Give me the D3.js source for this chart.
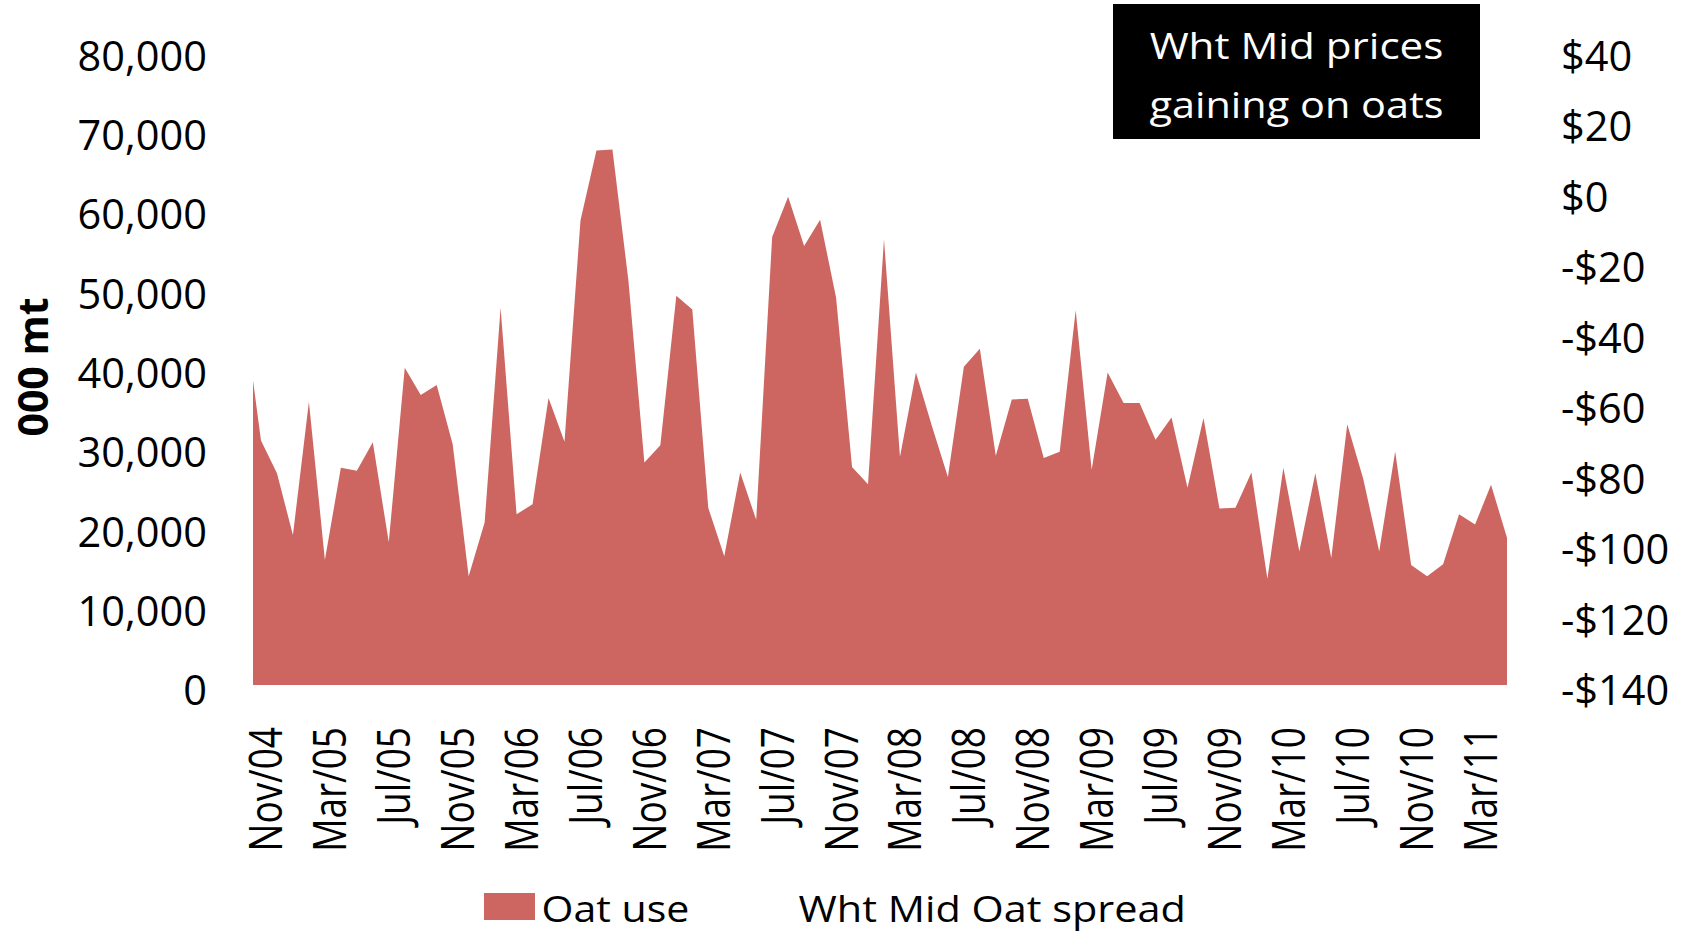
<!DOCTYPE html>
<html>
<head>
<meta charset="utf-8">
<script src="https://cdn.jsdelivr.net/npm/d3@7"></script>
<style>
  html, body { margin: 0; padding: 0; background: #fff; }
  svg { display: block; }
  text { font-family: "Open Sans", "Noto Sans", sans-serif; fill: #000; }
</style>
</head>
<body>
<svg id="chart" width="1684" height="933"></svg>
<script>
// ---- data (monthly, index 0 = Oct/04, last = May/11) ----
const startYear = 2004;
const startMonth = 9; // October (0-based)
const oatUse = [
  45960, 30820, 26680, 18900, 35720, 15770, 27380, 27010, 30590, 17980,
  39990, 36560, 37830, 30360, 13710, 20490, 47560, 21510, 22800, 36190,
  30680, 58570, 67370, 67510, 51000, 28060, 30230, 49070, 47330, 22330,
  16240, 26780, 20820, 56490, 61540, 55350, 58660, 48840, 27470, 25320,
  56180, 28760, 39390, 32660, 26230, 40130, 42380, 28890, 36000, 36090,
  28620, 29390, 47240, 27150, 39390, 35540, 35540, 30910, 33710, 24860,
  33660, 22240, 22330, 26780, 13390, 27380, 16830, 26680, 16000, 32880,
  26000, 16830, 29440, 15140, 13710, 15230, 21510, 20230, 25230, 18570
];
const tickLabels = ["Nov/04","Mar/05","Jul/05","Nov/05","Mar/06","Jul/06","Nov/06","Mar/07",
  "Jul/07","Nov/07","Mar/08","Jul/08","Nov/08","Mar/09","Jul/09","Nov/09","Mar/10","Jul/10",
  "Nov/10","Mar/11"];
const leftTicks = [0, 10000, 20000, 30000, 40000, 50000, 60000, 70000, 80000];
const rightTicks = [40, 20, 0, -20, -40, -60, -80, -100, -120, -140];
const seriesNames = ["Oat use", "Wht Mid Oat spread"];
const titleLines = ["Wht Mid prices", "gaining on oats"];

const monthNames = ["Jan","Feb","Mar","Apr","May","Jun","Jul","Aug","Sep","Oct","Nov","Dec"];
const months = oatUse.map((d, i) => {
  const m = (startMonth + i) % 12;
  const y = startYear + Math.floor((startMonth + i) / 12);
  return monthNames[m] + "/" + String(y % 100).padStart(2, "0");
});
const data = oatUse.map((v, i) => ({ i, label: months[i], value: v }));

// ---- layout ----
const svg = d3.select("#chart");
const plot = { left: 253, right: 1507, top: 50.4, bottom: 685 };
const fill = "#CD6661";

const x = d3.scaleLinear().domain([0.5, oatUse.length - 1]).range([plot.left, plot.right]);
const y = d3.scaleLinear().domain([0, 80000]).range([plot.bottom, plot.top]);
const y2 = d3.scaleLinear().domain([-140, 40]).range([plot.bottom, plot.top]);

svg.append("defs").append("clipPath").attr("id", "plotclip")
  .append("rect").attr("x", plot.left).attr("y", 0)
  .attr("width", plot.right - plot.left).attr("height", plot.bottom);

const area = d3.area().x(d => x(d.i)).y0(y(0)).y1(d => y(d.value));
svg.append("path").datum(data).attr("clip-path", "url(#plotclip)")
  .attr("d", area).attr("fill", fill);

// ---- left axis ----
const fs = 41.5;
const gL = svg.append("g").attr("transform", `translate(207,0)`)
  .call(d3.axisLeft(y).tickValues(leftTicks).tickFormat(d3.format(",")).tickSize(0).tickPadding(0));
gL.select(".domain").remove();
gL.selectAll("text").attr("font-size", fs).attr("font-family", "Open Sans")
  .attr("x", 0).attr("dy", 0).attr("y", 5 + 0.357 * fs).attr("text-anchor", "end").attr("fill", "#000");

// ---- right axis ----
const fmtR = v => (v < 0 ? "-$" + Math.abs(v) : "$" + v);
const gR = svg.append("g").attr("transform", `translate(1561,0)`)
  .call(d3.axisRight(y2).tickValues(rightTicks).tickFormat(fmtR).tickSize(0).tickPadding(0));
gR.select(".domain").remove();
gR.selectAll("text").attr("font-size", fs).attr("font-family", "Open Sans")
  .attr("x", 0).attr("dy", 0).attr("y", 5 + 0.357 * fs).attr("text-anchor", "start").attr("fill", "#000");

// ---- bottom axis ----
const tickIdx = tickLabels.map(t => months.indexOf(t));
const gX = svg.append("g").attr("transform", `translate(0,${plot.bottom})`)
  .call(d3.axisBottom(x).tickValues(tickIdx).tickFormat(d => months[d]).tickSize(0).tickPadding(0));
gX.select(".domain").remove();
gX.selectAll("text").attr("font-size", 37).attr("font-family", "Open Sans")
  .attr("x", 0).attr("y", 0).attr("dy", 0)
  .attr("text-anchor", "end")
  .attr("transform", "translate(21,42) scale(1.25,1) rotate(-90)")
  .attr("fill", "#000");

// ---- y axis title ----
svg.append("text").attr("transform", "translate(48,367) rotate(-90)")
  .attr("text-anchor", "middle").attr("font-size", 41).attr("font-weight", "bold")
  .text("000 mt");

// ---- title box ----
svg.append("rect").attr("x", 1113).attr("y", 4).attr("width", 367).attr("height", 135).attr("fill", "#000");
const titleBase = [59, 118];
const titleScale = [1.14, 1.12];
titleLines.forEach((t, k) => {
  svg.append("text").attr("transform", `translate(1296.5,${titleBase[k]}) scale(${titleScale[k]},1)`)
    .attr("text-anchor", "middle").attr("font-size", 37).style("fill", "#fff").text(t);
});

// ---- legend ----
svg.append("rect").attr("x", 484).attr("y", 893).attr("width", 51).attr("height", 27).attr("fill", fill);
svg.append("text").attr("transform", "translate(541.5,922) scale(1.11,1)")
  .attr("font-size", 37).text(seriesNames[0]);
svg.append("text").attr("transform", "translate(798.5,922) scale(1.12,1)")
  .attr("font-size", 37).text(seriesNames[1]);
</script>
</body>
</html>
